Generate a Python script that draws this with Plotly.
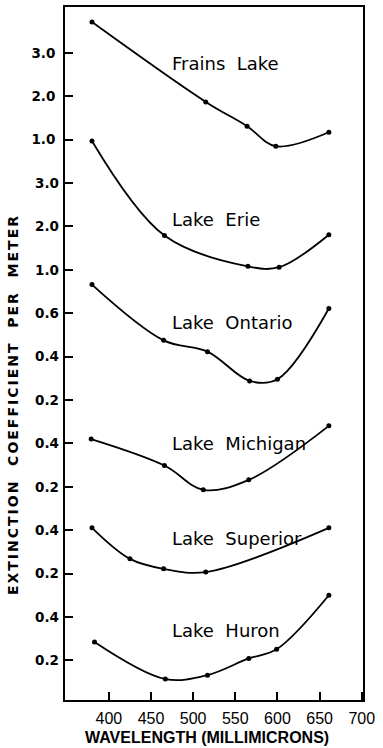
import plotly.graph_objects as go

# Extinction coefficient (per meter) vs. wavelength (millimicrons) for six lakes.
frains_wl = [380, 515, 564, 598, 661]
frains_k = [3.71, 1.87, 1.31, 0.85, 1.17]

erie_wl = [380, 466, 565, 602, 661]
erie_k = [3.97, 1.79, 1.08, 1.06, 1.81]

ontario_wl = [380, 465, 517, 567, 600, 661]
ontario_k = [0.732, 0.475, 0.423, 0.288, 0.296, 0.622]

michigan_wl = [379, 466, 512, 566, 661]
michigan_k = [0.42, 0.298, 0.186, 0.232, 0.481]

superior_wl = [380, 425, 465, 515, 661]
superior_k = [0.411, 0.268, 0.222, 0.207, 0.411]

huron_wl = [383, 467, 517, 566, 599, 661]
huron_k = [0.285, 0.114, 0.132, 0.209, 0.251, 0.50]

names = ["Frains Lake", "Lake Erie", "Lake Ontario", "Lake Michigan",
         "Lake Superior", "Lake Huron"]
wls = [frains_wl, erie_wl, ontario_wl, michigan_wl, superior_wl, huron_wl]
vals = [frains_k, erie_k, ontario_k, michigan_k, superior_k, huron_k]

# Tick values shown on each lake's own scale
tick_vals = [[1.0, 2.0, 3.0], [1.0, 2.0, 3.0], [0.2, 0.4, 0.6],
             [0.2, 0.4], [0.2, 0.4], [0.2, 0.4]]
tick_text = [["1.0", "2.0", "3.0"], ["1.0", "2.0", "3.0"], ["0.2", "0.4", "0.6"],
             ["0.2", "0.4"], ["0.2", "0.4"], ["0.2", "0.4"]]

x_ticks = [400, 450, 500, 550, 600, 650, 700]

# Panel stacking: every tick row is the same height; each lake's top tick
# sits on a given row and one row corresponds to `unit` of that lake's scale.
W, H = 383, 748
M_L, M_R, M_T, M_B = 65, 20, 5, 48
PLOT_H = H - M_T - M_B
ROW0, ROW = 46.0, 43.52
panel_top = [3.0, 3.0, 0.6, 0.4, 0.4, 0.4]
panel_row = [0, 3, 6, 9, 11, 13]
panel_unit = [1.0, 1.0, 0.2, 0.2, 0.2, 0.2]

label_x = 472
label_y = [2.75, 2.16, 0.556, 0.40, 0.363, 0.339]

FONT = "DejaVu Sans"
FONT_X = "Liberation Sans"
fig = go.Figure()
layout_axes = {}
for i in range(6):
    yname = "y" if i == 0 else f"y{i + 1}"
    fig.add_trace(go.Scatter(
        x=wls[i], y=vals[i], name=names[i], yaxis=yname,
        mode="lines+markers",
        line=dict(color="black", width=1.8, shape="spline", smoothing=1.0),
        marker=dict(color="black", size=5),
        showlegend=False,
    ))
    r1 = panel_top[i] + (ROW0 + panel_row[i] * ROW) / ROW * panel_unit[i]
    r0 = r1 - PLOT_H / ROW * panel_unit[i]
    ax = dict(
        range=[r0, r1], tickvals=tick_vals[i], ticktext=tick_text[i],
        ticks="inside", ticklen=8, tickwidth=1.5, tickcolor="black",
        ticklabelstandoff=5,
        tickfont=dict(family=FONT, size=13.5, color="black", weight="bold"),
        showgrid=False, zeroline=False, fixedrange=True,
    )
    if i == 0:
        ax.update(showline=True, mirror=True, linecolor="black", linewidth=1.8)
        layout_axes["yaxis"] = ax
    else:
        ax.update(overlaying="y", anchor="x", side="left", showline=False)
        layout_axes[f"yaxis{i + 1}"] = ax
    fig.add_annotation(
        x=label_x, y=label_y[i], xref="x", yref=yname,
        text=names[i].replace(" ", "  "), showarrow=False,
        xanchor="left", yanchor="middle",
        font=dict(family=FONT, size=18, color="black"),
    )

fig.update_layout(
    width=W, height=H,
    margin=dict(l=M_L, r=M_R, t=M_T, b=M_B),
    paper_bgcolor="white", plot_bgcolor="white",
    xaxis=dict(
        range=[348, 701.5], tickvals=x_ticks,
        ticks="inside", ticklen=8, tickwidth=1.5, tickcolor="black",
        ticklabelstandoff=3,
        tickfont=dict(family=FONT_X, size=16, color="black"),
        showline=True, mirror=True, linecolor="black", linewidth=1.8,
        showgrid=False, zeroline=False, fixedrange=True,
    ),
    **layout_axes,
)

fig.add_annotation(
    x=0.475, y=-0.0547, xref="paper", yref="paper",
    text="WAVELENGTH (MILLIMICRONS)", showarrow=False,
    xanchor="center", yanchor="middle",
    font=dict(family=FONT_X, size=16, color="black", weight="bold"),
)
fig.add_annotation(
    x=-0.172, y=0.4266, xref="paper", yref="paper",
    text='<span style="letter-spacing:2px">EXTINCTION  COEFFICIENT  PER  METER</span>',
    showarrow=False, textangle=-90, xanchor="center", yanchor="middle",
    font=dict(family=FONT, size=14, color="black", weight="bold"),
)

fig.write_html("out.html")
